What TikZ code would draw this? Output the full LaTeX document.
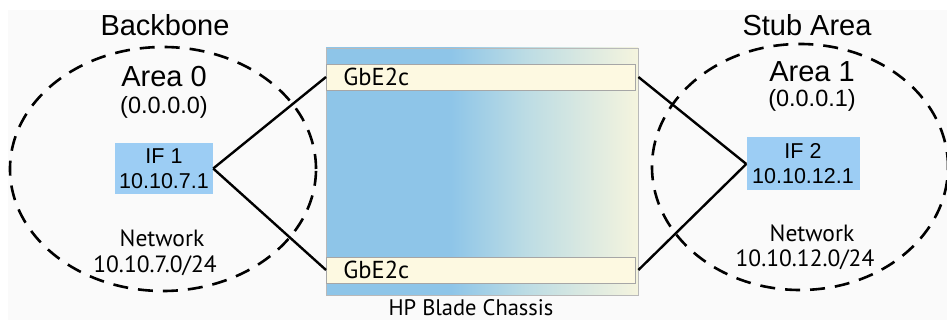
\documentclass[tikz,border=0pt]{standalone}
\usepackage{fontspec}
\setmainfont{Liberation Sans}
\newfontfamily\myriad{PT Sans}
\usetikzlibrary{positioning}
\definecolor{ifblue}{HTML}{9CCDF4}
\definecolor{chblue}{HTML}{8EC5E8}
\definecolor{chmid}{HTML}{BCDCE4}
\definecolor{chcream}{HTML}{F5F4DE}
\definecolor{barfill}{HTML}{FDF9E1}
\definecolor{bggray}{HTML}{FAFAFA}
\pgfdeclarehorizontalshading{chassisfade}{100bp}{color(0bp)=(chblue);
  color(25bp)=(chblue); color(45bp)=(chblue); color(57bp)=(chmid);
  color(75bp)=(chcream); color(100bp)=(chcream)}

\begin{document}
\begin{tikzpicture}[x=1pt,y=-1pt,
  area/.style={draw,line width=2.6pt,dash pattern=on 15pt off 10pt},
  link/.style={line width=2.4pt},
  ifbox/.style={fill=ifblue,align=center,inner sep=0pt,minimum width=98pt,
            minimum height=51pt,font=\fontsize{21.5}{25}\selectfont},
  title/.style={font=\fontsize{29}{31}\selectfont},
  areaid/.style={font=\fontsize{23.5}{25}\selectfont},
  net/.style={font=\myriad\fontsize{23.5}{25}\selectfont},
  chassis/.style={draw=gray!55,line width=0.8pt,shading=chassisfade,
            minimum width=312pt,minimum height=247pt,inner sep=0pt},
  bar/.style={draw=gray!70,line width=0.8pt,fill=barfill,anchor=west,
            text width=275pt,align=left,inner xsep=17pt,inner ysep=0pt,
            minimum height=26pt,font=\myriad\fontsize{24.5}{26}\selectfont}]
\clip (0,0) rectangle (947,320);
\useasboundingbox (0,0) rectangle (947,320);
\fill[bggray] (8,10) rectangle (947,320);
% blade chassis with the two switches
\node[chassis] (chassis) at (482,171.5) {};
\node[bar] (gbetop) at (326,77) {GbE2c};
\node[bar] (gbebot) at (326,270) {GbE2c};
\node[font=\myriad\fontsize{22.5}{24}\selectfont] (chlabel) at (471,308) {HP Blade Chassis};
% backbone area
\draw[area] (163,169) ellipse [x radius=153pt,y radius=122pt];
\node[title] (bbtitle) at (165,25) {Backbone};
\node[title] (area0) at (164,77) {Area 0};
\node[areaid] (area0id) at (164,107) {(0.0.0.0)};
\node[ifbox] (if1) at (164,168.5) {IF 1\\10.10.7.1};
\node[net] (net0) at (162,238) {Network};
\node[net] (net0addr) at (155,266) {10.10.7.0/24};
% stub area
\draw[area] (800,167) ellipse [x radius=148pt,y radius=123pt];
\node[title] (stubtitle) at (807,25) {Stub Area};
\node[title] (area1) at (812,72) {Area 1};
\node[areaid] (area1id) at (812,100) {(0.0.0.1)};
\node[ifbox,minimum width=113pt,minimum height=53pt] (if2) at (803,164) {IF 2\\10.10.12.1};
\node[net] (net1) at (812,233) {Network};
\node[net] (net1addr) at (805,260) {10.10.12.0/24};
% links
\draw[link] (if1.east) -- (gbetop.west);
\draw[link] (if1.east) -- (gbebot.west);
\draw[link] (chassis.east |- gbetop) -- (if2.west);
\draw[link] (chassis.east |- gbebot) -- (if2.west);
\end{tikzpicture}
\end{document}
